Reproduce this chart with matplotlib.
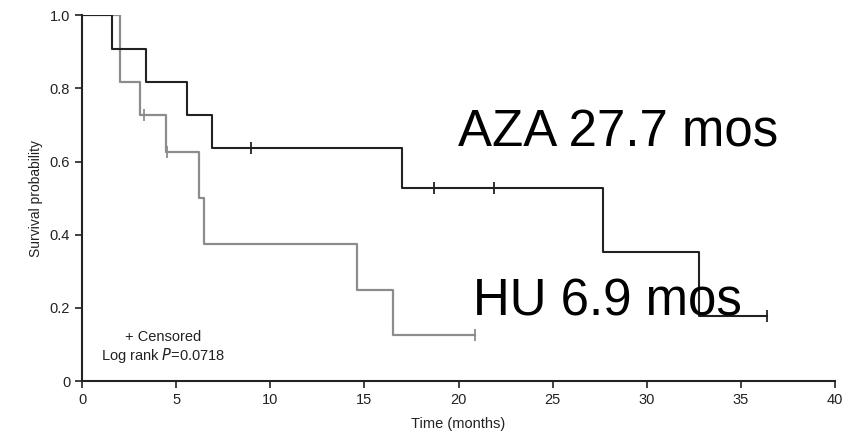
import matplotlib.pyplot as plt

plt.rcParams['font.family'] = ['Liberation Sans', 'DejaVu Sans']

# Kaplan-Meier step data (time in months, survival probability)
aza_t = [0, 1.6, 3.4, 5.6, 6.9, 17.0, 27.7, 32.8, 36.4]
aza_s = [1.0, 0.909, 0.818, 0.727, 0.636, 0.527, 0.353, 0.177, 0.177]
aza_cens_t = [9.0, 18.7, 21.9, 36.4]
aza_cens_s = [0.636, 0.527, 0.527, 0.177]

hu_t = [0, 2.0, 3.1, 4.45, 6.2, 6.5, 14.6, 16.5, 20.9]
hu_s = [1.0, 0.818, 0.727, 0.627, 0.5, 0.374, 0.25, 0.126, 0.126]
hu_cens_t = [3.3, 4.5, 20.9]
hu_cens_s = [0.727, 0.627, 0.126]

xticks = [0, 5, 10, 15, 20, 25, 30, 35, 40]
yticks = [0, 0.2, 0.4, 0.6, 0.8, 1.0]
ytick_labels = ['0', '0.2', '0.4', '0.6', '0.8', '1.0']

fig = plt.figure(figsize=(8.59, 4.36), dpi=100)
ax = fig.add_axes([0.0955, 0.126, 0.8766, 0.839])

ax.step(hu_t, hu_s, where='post', color='#8c8c8c', lw=1.6)
ax.plot(hu_cens_t, hu_cens_s, ls='none', marker='|', ms=9, mew=1.3, color='#8c8c8c')
ax.step(aza_t, aza_s, where='post', color='#222222', lw=1.5)
ax.plot(aza_cens_t, aza_cens_s, ls='none', marker='|', ms=9, mew=1.3, color='#222222')

ax.set_xlim(0, 40)
ax.set_ylim(0, 1.0)
ax.set_xticks(xticks)
ax.set_xticklabels([str(v) for v in xticks])
ax.set_yticks(yticks)
ax.set_yticklabels(ytick_labels)
ax.tick_params(labelsize=10.5, length=5, width=1.2, color='#222222', labelcolor='#222222')

for side in ['top', 'right']:
    ax.spines[side].set_visible(False)
for side in ['left', 'bottom']:
    ax.spines[side].set_linewidth(1.5)
    ax.spines[side].set_color('#222222')
ax.spines['left'].set_zorder(5)

ax.set_xlabel('Time (months)', fontsize=10.5, color='#222222', labelpad=7)
ax.set_ylabel('Survival probability', fontsize=10, color='#222222', labelpad=5)

ax.text(4.3, 0.12, '+ Censored', fontsize=10.5, ha='center', va='center', color='#222222')
ax.text(4.3, 0.07, 'Log rank $\\it{P}$=0.0718', fontsize=10.5, ha='center', va='center', color='#222222')

ax.text(19.95, 0.64, 'AZA 27.7 mos', fontsize=36.7, ha='left', va='baseline', color='black')
ax.text(20.75, 0.178, 'HU 6.9 mos', fontsize=36.7, ha='left', va='baseline', color='black')

fig.savefig('out.png', dpi=100)
